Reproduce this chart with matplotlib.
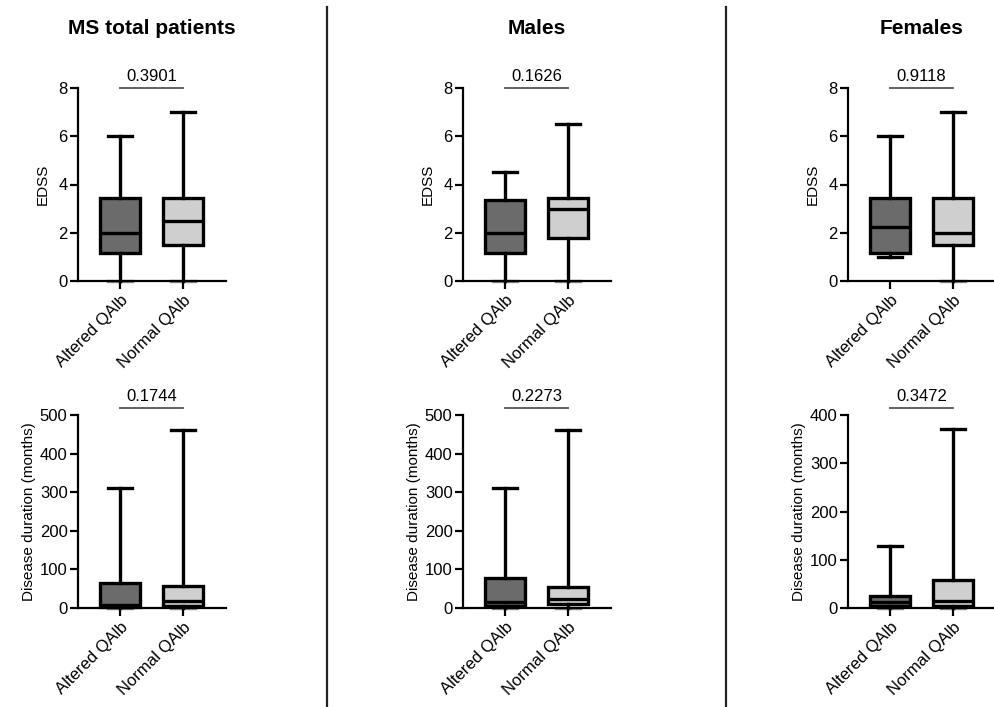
import matplotlib
matplotlib.use('Agg')
import matplotlib.pyplot as plt
from matplotlib.lines import Line2D

plt.rcParams['font.family'] = ['Liberation Sans', 'DejaVu Sans']

# Box summaries: [min, q1, median, q3, max]
groups = ['Altered QAlb', 'Normal QAlb']
panel_titles = ['MS total patients', 'Males', 'Females']

edss_total_altered = [0, 1.15, 2.0, 3.45, 6.0]
edss_total_normal = [0, 1.5, 2.5, 3.45, 7.0]
edss_male_altered = [0, 1.15, 2.0, 3.35, 4.5]
edss_male_normal = [0, 1.8, 3.0, 3.45, 6.5]
edss_female_altered = [1.0, 1.15, 2.25, 3.45, 6.0]
edss_female_normal = [0, 1.5, 2.0, 3.45, 7.0]

dur_total_altered = [0, 3, 9, 65, 312]
dur_total_normal = [0, 6, 17, 56, 460]
dur_male_altered = [0, 6, 15, 77, 311]
dur_male_normal = [0, 11, 24, 54, 460]
dur_female_altered = [0, 5, 12, 24, 129]
dur_female_normal = [0, 5, 14, 57, 372]

p_edss = ['0.3901', '0.1626', '0.9118']
p_dur = ['0.1744', '0.2273', '0.3472']

edss_ticks = [0, 2, 4, 6, 8]
dur_ticks = [[0, 100, 200, 300, 400, 500], [0, 100, 200, 300, 400, 500],
             [0, 100, 200, 300, 400]]

box_colors = ['#6b6b6b', '#cfcfcf']

W, H = 994, 707
fig = plt.figure(figsize=(W / 100, H / 100), dpi=100)

axes_left = [78, 463, 848]
axes_w = 148
top_row = (88, 281)
bot_row = (415, 608)


def make_stats(summary, label):
    lo, q1, med, q3, hi = summary
    return {'whislo': lo, 'q1': q1, 'med': med, 'q3': q3, 'whishi': hi,
            'fliers': [], 'label': label}


def draw_panel(ax, altered, normal, ticks, pval, p_frac):
    stats = [make_stats(altered, groups[0]), make_stats(normal, groups[1])]
    lw = 2.4
    parts = ax.bxp(stats, positions=[0, 1], widths=0.63, patch_artist=True,
                   showfliers=False, capwidths=0.38,
                   boxprops=dict(linewidth=lw, edgecolor='black'),
                   whiskerprops=dict(linewidth=lw, color='black'),
                   capprops=dict(linewidth=lw, color='black'),
                   medianprops=dict(linewidth=lw, color='black'))
    for patch, c in zip(parts['boxes'], box_colors):
        patch.set_facecolor(c)
    for key in parts:
        for art in parts[key]:
            art.set_clip_on(False)
            art.set_zorder(3)
    # caps sitting on the zero line look grey in the original
    for cap in parts['caps']:
        if cap.get_ydata()[0] == ticks[0]:
            cap.set_color('#888888')
            cap.set_zorder(1)

    ax.set_xlim(-0.667, 1.683)
    ax.set_ylim(ticks[0], ticks[-1])
    ax.set_yticks(ticks)
    ax.set_xticks([0, 1])
    ax.set_xticklabels(groups, rotation=45, ha='right', rotation_mode='anchor',
                       fontsize=12)
    ax.tick_params(axis='y', labelsize=12, width=1.6, length=5.5, pad=2)
    ax.tick_params(axis='x', width=1.6, length=5.5, pad=3)
    for s in ['top', 'right']:
        ax.spines[s].set_visible(False)
    for s in ['left', 'bottom']:
        ax.spines[s].set_linewidth(1.6)
        ax.spines[s].set_zorder(2)

    ax.plot([0, 1], [p_frac, p_frac], color='#555555', linewidth=1.3,
            transform=ax.get_xaxis_transform(), clip_on=False)
    ax.annotate(pval, xy=(0.5, p_frac), xycoords=ax.get_xaxis_transform(),
                xytext=(0, 3), textcoords='offset points',
                ha='center', va='bottom', fontsize=12)


edss_data = [(edss_total_altered, edss_total_normal),
             (edss_male_altered, edss_male_normal),
             (edss_female_altered, edss_female_normal)]
dur_data = [(dur_total_altered, dur_total_normal),
            (dur_male_altered, dur_male_normal),
            (dur_female_altered, dur_female_normal)]

for i in range(3):
    left = axes_left[i] / W
    width = axes_w / W

    ax1 = fig.add_axes([left, 1 - top_row[1] / H, width,
                        (top_row[1] - top_row[0]) / H])
    draw_panel(ax1, edss_data[i][0], edss_data[i][1], edss_ticks, p_edss[i], 1.0)
    ax1.set_ylabel('EDSS', fontsize=11, labelpad=6)

    ax2 = fig.add_axes([left, 1 - bot_row[1] / H, width,
                        (bot_row[1] - bot_row[0]) / H])
    draw_panel(ax2, dur_data[i][0], dur_data[i][1], dur_ticks[i], p_dur[i], 1.037)
    ax2.set_ylabel('Disease duration (months)', fontsize=11, labelpad=3)

    fig.text((axes_left[i] + axes_w / 2) / W, 1 - 34 / H, panel_titles[i],
             ha='center', va='baseline', fontsize=15, fontweight='bold')

# column separators
for x in [327, 726]:
    fig.add_artist(Line2D([x / W, x / W], [0, 1 - 7 / H], color='#222222',
                          linewidth=1.6))

fig.savefig('out.png', dpi=100)
